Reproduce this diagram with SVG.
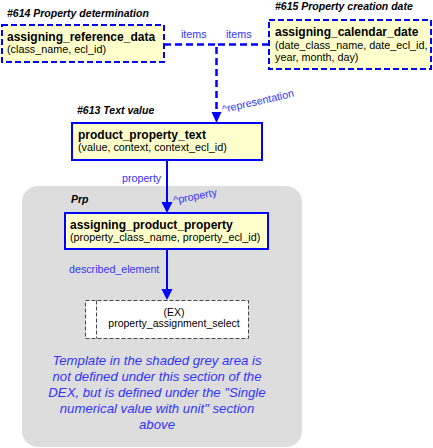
<svg xmlns="http://www.w3.org/2000/svg" width="433" height="448" viewBox="0 0 433 448">
<style>
text{font-family:"Liberation Sans",Arial,sans-serif;}
.ttl{font-size:10.5px;font-weight:bold;font-style:italic;fill:#000;}
.nm{font-size:12px;font-weight:bold;fill:#000;}
.at{font-size:10.8px;fill:#000;}
.ex-t{font-size:10.5px;fill:#000;}
.lbl{font-size:10.7px;fill:#3333ff;}
.box{fill:#ffffcc;stroke:#0000ff;stroke-width:2;}
.dbox{fill:#ffffcc;stroke:#0000ff;stroke-width:2;stroke-dasharray:6,3;}
.con{fill:none;stroke:#0000ff;stroke-width:2;}
.dcon{fill:none;stroke:#0000ff;stroke-width:2.5;stroke-dasharray:7,4;}
.ex{fill:#fff;stroke:#444;stroke-width:1;stroke-dasharray:4,2;}
.note{font-size:13.2px;font-style:italic;fill:#3333ff;}
</style>
<rect width="433" height="448" fill="#fff"/>
<g id="prp-area">
<rect x="22" y="186" width="280" height="261" rx="16" ry="16" fill="#dddddd"/>
<text class="ttl" x="71" y="203">Prp</text>
</g>
<g id="connectors">
<path class="dcon" d="M164,44.5 H216.5 V115"/>
<path class="dcon" d="M269,44.5 H216.5"/>
<path d="M211.5,112 L221.5,112 L216.5,123 Z" fill="#0000ff"/>
<path class="con" d="M167,160 V204"/>
<path d="M161.5,202 L172.5,202 L167,213 Z" fill="#0000ff"/>
<path class="con" d="M167,249 V290"/>
<path d="M161.5,289 L172.5,289 L167,300 Z" fill="#0000ff"/>
<text class="lbl" x="181" y="38">items</text>
<text class="lbl" x="226" y="38">items</text>
<text class="lbl" x="223" y="113" transform="rotate(-13 223 113)">^representation</text>
<text class="lbl" x="122" y="182">property</text>
<text class="lbl" x="174" y="204" transform="rotate(-11 174 204)">^property</text>
<text class="lbl" x="69" y="273">described_element</text>
</g>
<g id="n614">
<text class="ttl" x="7" y="17">#614 Property determination</text>
<rect class="dbox" x="2" y="25" width="162" height="37"/>
<text class="nm" x="7" y="41">assigning_reference_data</text>
<text class="at" x="7" y="52.5">(class_name, ecl_id)</text>
</g>
<g id="n615">
<text class="ttl" x="275" y="10">#615 Property creation date</text>
<rect class="dbox" x="269" y="20" width="162" height="49"/>
<text class="nm" x="275" y="36">assigning_calendar_date</text>
<text class="at" x="275" y="49">(date_class_name, date_ecl_id,</text>
<text class="at" x="275" y="60.5">year, month, day)</text>
</g>
<g id="n613">
<text class="ttl" x="77" y="114">#613 Text value</text>
<rect class="box" x="72" y="123" width="190" height="37"/>
<text class="nm" x="78" y="139">product_property_text</text>
<text class="at" x="78" y="150.5">(value, context, context_ecl_id)</text>
</g>
<g id="napp">
<rect class="box" x="65" y="213" width="203" height="36"/>
<text class="nm" x="70" y="229">assigning_product_property</text>
<text class="at" x="70" y="240.5">(property_class_name, property_ecl_id)</text>
</g>
<g id="nex">
<rect class="ex" x="85.5" y="300.5" width="163" height="38"/>
<line x1="96.5" y1="300.5" x2="96.5" y2="338.5" stroke="#444" stroke-width="1" stroke-dasharray="4,2"/>
<text class="ex-t" x="174" y="316" text-anchor="middle">(EX)</text>
<text class="ex-t" x="174" y="327" text-anchor="middle">property_assignment_select</text>
</g>
<g id="note">
<text class="note" text-anchor="middle" x="157" y="365">Template in the shaded grey area is</text>
<text class="note" text-anchor="middle" x="157" y="381">not defined under this section of the</text>
<text class="note" text-anchor="middle" x="157" y="397">DEX, but is defined under the "Single</text>
<text class="note" text-anchor="middle" x="157" y="413">numerical value with unit" section</text>
<text class="note" text-anchor="middle" x="157" y="429">above</text>
</g>
</svg>
